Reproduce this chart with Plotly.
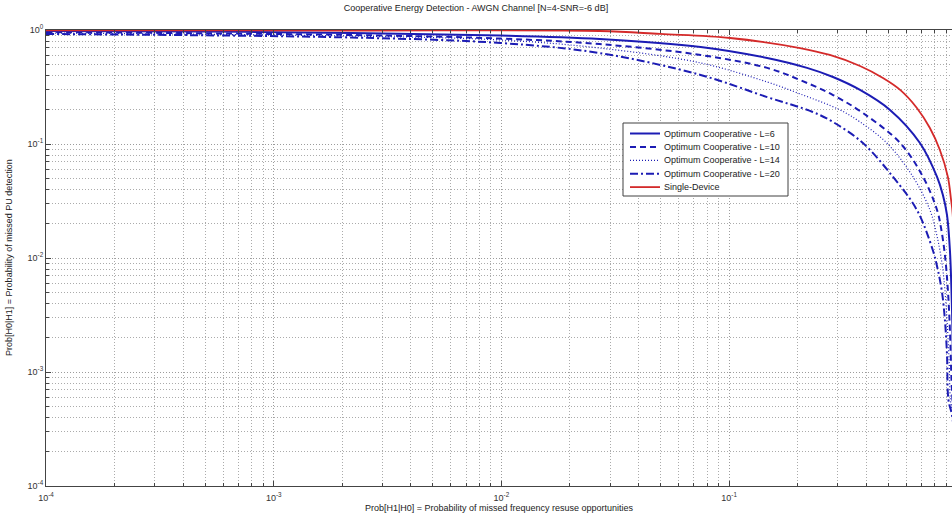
import plotly.graph_objects as go

# ---- data ----
pf_L6 = [1e-4, 4.7e-4, 2.2e-3, 9.9e-3, 0.027, 0.075, 0.147, 0.22, 0.286, 0.376, 0.509, 0.689, 0.819, 0.869, 0.906, 0.933, 0.953, 0.96, 0.999]
pm_L6 = [0.98, 0.97, 0.94, 0.895, 0.834, 0.71, 0.568, 0.465, 0.387, 0.298, 0.199, 0.102, 0.0514, 0.0357, 0.0238, 0.0117, 0.0035, 0.0017, 1e-6]

pf_L10 = [1e-4, 2.2e-3, 9.9e-3, 0.027, 0.075, 0.147, 0.205, 0.286, 0.387, 0.564, 0.711, 0.819, 0.853, 0.887, 0.914, 0.933, 0.948, 0.96, 0.999]
pm_L10 = [0.96, 0.904, 0.841, 0.753, 0.604, 0.465, 0.364, 0.269, 0.187, 0.102, 0.0514, 0.0264, 0.0183, 0.0106, 0.00524, 0.00234, 0.00085, 0.00047, 1e-6]

pf_L14 = [1e-4, 2.2e-3, 9.9e-3, 0.027, 0.075, 0.147, 0.205, 0.307, 0.376, 0.493, 0.643, 0.762, 0.811, 0.843, 0.869, 0.887, 0.906, 0.925, 0.938, 0.96, 0.999]
pm_L14 = [0.94, 0.885, 0.817, 0.695, 0.514, 0.35, 0.275, 0.199, 0.156, 0.102, 0.0514, 0.0264, 0.0169, 0.0117, 0.00785, 0.00524, 0.00286, 0.00127, 0.00057, 0.00042, 1e-6]

pf_L20 = [1e-4, 2.2e-3, 9.9e-3, 0.027, 0.075, 0.147, 0.233, 0.286, 0.387, 0.525, 0.668, 0.785, 0.826, 0.861, 0.887, 0.906, 0.919, 0.96, 0.999]
pm_L20 = [0.923, 0.859, 0.769, 0.628, 0.403, 0.258, 0.191, 0.156, 0.102, 0.0514, 0.0264, 0.0117, 0.00785, 0.00503, 0.00286, 0.00141, 0.00057, 0.00038, 1e-6]

pf_single = [1e-4, 2.2e-3, 0.027, 0.0498, 0.101, 0.205, 0.277, 0.376, 0.474, 0.564, 0.668, 0.762, 0.843, 0.914, 0.944, 0.96, 0.999]
pm_single = [0.995, 0.99, 0.98, 0.923, 0.851, 0.695, 0.604, 0.483, 0.379, 0.298, 0.207, 0.138, 0.0886, 0.0514, 0.0323, 0.024, 1e-6]

series_names = ["Optimum Cooperative - L=6", "Optimum Cooperative - L=10",
                "Optimum Cooperative - L=14", "Optimum Cooperative - L=20",
                "Single-Device"]

decades = [1e-4, 1e-3, 1e-2, 1e-1, 1e0]
decade_labels = ["10<sup>-4</sup>", "10<sup>-3</sup>", "10<sup>-2</sup>", "10<sup>-1</sup>", "10<sup>0</sup>"]

title_text = "Cooperative Energy Detection - AWGN Channel [N=4-SNR=-6 dB]"
xlabel = "Prob[H1|H0] = Probability of missed frequency resuse opportunities"
ylabel = "Prob[H0|H1] = Probability of missed PU detection"

# ---- figure ----
BLUE = "#1C1CB4"
RED = "#D42A2A"
FONT = "Arial, Liberation Sans, sans-serif"
W, H = 952, 513
ML, MR, MT, MB = 46, 0, 30, 27
PW, PH = W - ML - MR, H - MT - MB

fig = go.Figure()
line_styles = [
    dict(color=BLUE, width=2, dash="solid"),
    dict(color=BLUE, width=2, dash="6px,4px"),
    dict(color=BLUE, width=1.2, dash="1px,2px"),
    dict(color=BLUE, width=2, dash="8px,3px,2px,3px"),
    dict(color=RED, width=1.8, dash="solid"),
]
data = [(pf_L6, pm_L6), (pf_L10, pm_L10), (pf_L14, pm_L14), (pf_L20, pm_L20), (pf_single, pm_single)]
for (xs, ys), ln, nm in zip(data, line_styles, series_names):
    fig.add_trace(go.Scatter(x=xs, y=ys, mode="lines", name=nm, showlegend=False,
                             line=dict(shape="spline", smoothing=1.0, **ln)))

minor_vals = [d * k for d in decades[:-1] for k in range(2, 10)]

axis_common = dict(
    type="log",
    showline=True, linecolor="#444", linewidth=1,
    ticks="inside", ticklen=5, tickcolor="#444",
    showgrid=True, gridcolor="#9C9C9C", griddash="1px,2px", gridwidth=1,
    zeroline=False,
    tickmode="array", tickvals=decades, ticktext=decade_labels,
    tickfont=dict(family=FONT, size=9, color="#333"),
    minor=dict(tickmode="array", tickvals=minor_vals, ticks="inside", ticklen=3,
               tickcolor="#444", showgrid=True, gridcolor="#ABABAB",
               griddash="1px,2px", gridwidth=1),
)

fig.update_xaxes(**axis_common, range=[-4, -0.021], mirror="ticks", ticklabelstandoff=3,
                 title=dict(text=xlabel, font=dict(family=FONT, size=9, color="#222"), standoff=2))
fig.update_yaxes(**axis_common, range=[-4, 0], mirror=False)

# ---- legend box drawn in paper coordinates (MATLAB-style compact legend) ----
def px_to_paper_x(px):
    return (px - ML) / PW

def py_to_paper_y(py):
    return (H - MB - py) / PH

leg_left, leg_right, leg_top, leg_bot = 623, 788, 123, 196
shapes = [dict(type="rect", xref="paper", yref="paper", layer="above",
               x0=px_to_paper_x(leg_left), x1=px_to_paper_x(leg_right),
               y0=py_to_paper_y(leg_bot), y1=py_to_paper_y(leg_top),
               line=dict(color="#404040", width=1), fillcolor="white")]
annotations = []
row0, row_step = 133.5, 13.4
for i, (nm, ln) in enumerate(zip(series_names, line_styles)):
    yy = py_to_paper_y(row0 + i * row_step)
    shapes.append(dict(type="line", xref="paper", yref="paper", layer="above",
                       x0=px_to_paper_x(630), x1=px_to_paper_x(660), y0=yy, y1=yy,
                       line=ln))
    annotations.append(dict(text=nm, xref="paper", yref="paper", x=px_to_paper_x(662), y=yy,
                            xanchor="left", yanchor="middle", showarrow=False,
                            font=dict(family=FONT, size=9, color="#222")))

# y-axis title placed like MATLAB's (close to the figure edge)
annotations.append(dict(text=ylabel, xref="paper", yref="paper", x=px_to_paper_x(9),
                        y=py_to_paper_y(258), xanchor="center", yanchor="middle",
                        textangle=-90, showarrow=False,
                        font=dict(family=FONT, size=9, color="#222")))

fig.update_layout(
    width=W, height=H,
    margin=dict(l=ML, r=MR, t=MT, b=MB),
    paper_bgcolor="white", plot_bgcolor="white",
    title=dict(text=title_text, x=0.5, xref="container", xanchor="center",
               y=0.99, yref="container", yanchor="top",
               font=dict(family=FONT, size=9, color="#222")),
    showlegend=False,
    shapes=shapes, annotations=annotations,
)

fig.write_html("out.html")
